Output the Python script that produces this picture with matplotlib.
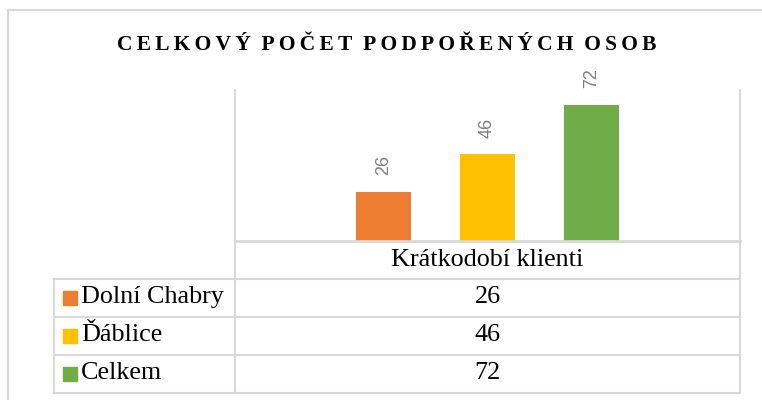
"""
Celkový počet podpořených osob - sloupcový graf s datovou tabulkou
"""

import matplotlib

matplotlib.use("Agg")
import matplotlib.pyplot as plt
from matplotlib.lines import Line2D
from matplotlib.patches import Rectangle

W, H = 762, 400

TITULEK = "CELKOVÝ POČET PODPOŘENÝCH OSOB"
KATEGORIE = "Krátkodobí klienti"
SERIE = ["Dolní Chabry", "Ďáblice", "Celkem"]
HODNOTY = [26, 46, 72]
BARVY = ["#ED7D31", "#FFC000", "#70AD47"]
Y_MAX = 80

MRIZKA = "#d9d9d9"
PISMO_TAB = 18.8


def fx(px):
    return px / W


def fy(py):
    return 1 - py / H


fig = plt.figure(figsize=(W / 100, H / 100), dpi=100)

# rámeček grafu
fig.add_artist(Line2D([fx(8), fx(8)], [fy(10), 0], color=MRIZKA, lw=1.5))
fig.add_artist(Line2D([fx(8), 1], [fy(10), fy(10)], color=MRIZKA, lw=1.5))

# titulek s prostrkaným písmem
mezera = "\u2009"
titulek = mezera.join(TITULEK).replace(mezera + " " + mezera, "\u2002")
fig.text(fx(387), fy(45), titulek, ha="center", va="center",
         fontsize=15.5, fontweight="bold", family="Liberation Serif")

# oblast grafu
ax = fig.add_axes([fx(235), fy(241), fx(740) - fx(235), fy(90) - fy(241)])
pozice = [-1, 0, 1]
sloupce = ax.bar(pozice, HODNOTY, width=0.53, color=BARVY)
for s, v in zip(sloupce, HODNOTY):
    ax.annotate(f"{v}", (s.get_x() + s.get_width() / 2, v), xytext=(0, 12),
                textcoords="offset points", ha="center", va="bottom",
                rotation=90, color="#808080", fontsize=13, family="Liberation Sans")
ax.set_xlim(-2.43, 2.43)
ax.set_ylim(0, Y_MAX)
ax.set_xticks([])
ax.set_yticks([])
for strana in ["top", "right", "bottom"]:
    ax.spines[strana].set_visible(False)
ax.spines["left"].set_color(MRIZKA)
ax.spines["left"].set_linewidth(1.2)

# datová tabulka
x_l, x_m, x_r = 54, 235, 740
radky = [241, 279, 317, 355, 393]
fig.add_artist(Line2D([fx(x_m), fx(x_r)], [fy(241), fy(241)], color=MRIZKA, lw=2))
for y in radky[1:]:
    fig.add_artist(Line2D([fx(x_l), fx(x_r)], [fy(y), fy(y)], color=MRIZKA, lw=1.5))
fig.add_artist(Line2D([fx(x_m), fx(x_m)], [fy(90), fy(393)], color=MRIZKA, lw=1.5))
fig.add_artist(Line2D([fx(x_r), fx(x_r)], [fy(90), fy(393)], color=MRIZKA, lw=1.5))
fig.add_artist(Line2D([fx(x_l), fx(x_l)], [fy(279), fy(393)], color=MRIZKA, lw=1.5))

fig.text(fx((x_m + x_r) / 2), fy(260), KATEGORIE, ha="center", va="center",
         fontsize=PISMO_TAB, family="Liberation Serif")
for i, (nazev, v, barva) in enumerate(zip(SERIE, HODNOTY, BARVY)):
    yc = (radky[i + 1] + radky[i + 2]) / 2
    fig.add_artist(Rectangle((fx(63), fy(yc + 7)), fx(14), 14 / H, color=barva))
    fig.text(fx(81), fy(yc - 1), nazev, ha="left", va="center",
             fontsize=PISMO_TAB, family="Liberation Serif")
    fig.text(fx((x_m + x_r) / 2), fy(yc - 1), f"{v}", ha="center", va="center",
             fontsize=PISMO_TAB, family="Liberation Serif")

fig.savefig("out.png", dpi=100)
